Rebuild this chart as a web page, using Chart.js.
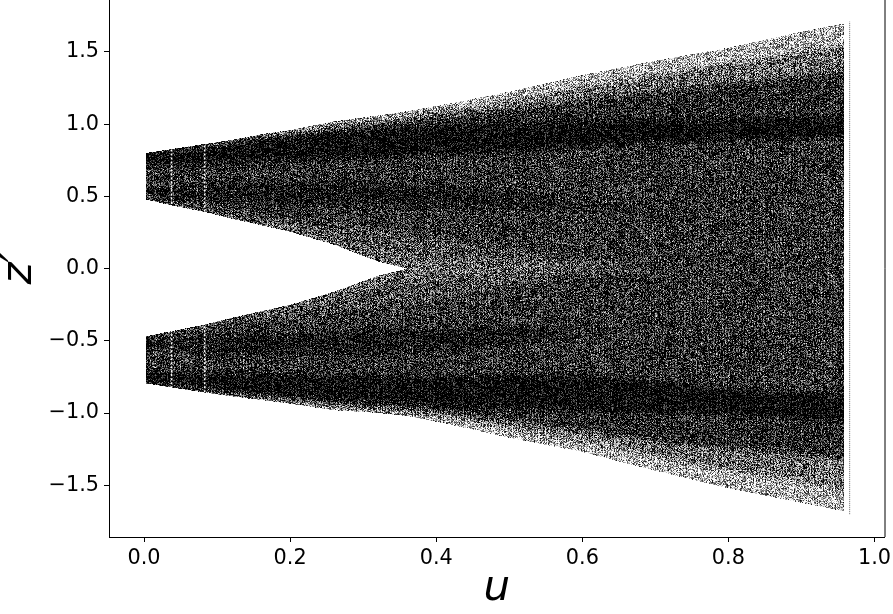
<!DOCTYPE html>
<html>
<head>
<meta charset="utf-8">
<title>z' against u</title>
<script src="https://cdn.jsdelivr.net/npm/chart.js@4/dist/chart.umd.min.js"></script>
<style>
  html, body { margin: 0; padding: 0; background: #fff; }
  canvas { display: block; }
</style>
</head>
<body>
<canvas id="chart" width="893" height="614"></canvas>
<script>
// Values: where the shade changes at each u
const uValues =          [0.002, 0.04, 0.08, 0.12, 0.16, 0.2, 0.26, 0.32, 0.36, 0.42, 0.5, 0.6, 0.7, 0.8, 0.9, 0.958];

const upperOuter =       [0.80, 0.83, 0.862, 0.89, 0.93, 0.96, 1.02, 1.06, 1.09, 1.145, 1.225, 1.34, 1.44, 1.53, 1.64, 1.697];
const upperSparse =      [0.80, 0.828, 0.858, 0.885, 0.92, 0.945, 1.0, 1.035, 1.055, 1.10, 1.16, 1.26, 1.34, 1.42, 1.50, 1.55];
const upperThin =        [0.795, 0.825, 0.85, 0.875, 0.905, 0.93, 0.97, 1.0, 1.02, 1.05, 1.10, 1.17, 1.23, 1.28, 1.33, 1.36];
const upperCoreTop =     [0.79, 0.82, 0.84, 0.86, 0.89, 0.91, 0.94, 0.96, 0.975, 0.99, 1.0, 1.02, 1.03, 1.04, 1.05, 1.06];
const upperCoreBottom =  [0.72, 0.72, 0.72, 0.72, 0.74, 0.75, 0.76, 0.77, 0.78, 0.79, 0.81, 0.84, 0.87, 0.89, 0.90, 0.91];
const upperSecondTop =   [0.56, 0.56, 0.58, 0.60, 0.60, 0.60, 0.60, 0.60, 0.58, 0.57, 0.53, 0.44, 0.38, 0.30, 0.22, 0.18];
const upperSecondLow =   [0.50, 0.48, 0.47, 0.46, 0.45, 0.44, 0.44, 0.44, 0.42, 0.42, 0.40, 0.43, 0.375, 0.295, 0.215, 0.175];
const upperFadeTop =     [0.48, 0.45, 0.42, 0.38, 0.35, 0.33, 0.30, 0.27, 0.25, 0.20, 0.12, 0.05, 0, 0, 0, 0];
const upperFadeLow =     [0.478, 0.44, 0.40, 0.355, 0.315, 0.275, 0.20, 0.12, 0.09, 0.07, 0.03, 0, 0, 0, 0, 0];
const upperInner =       [0.478, 0.435, 0.395, 0.345, 0.30, 0.255, 0.165, 0.05, 0, 0, 0, 0, 0, 0, 0, 0];

const lowerInner =       [-0.468, -0.43, -0.39, -0.34, -0.295, -0.25, -0.16, -0.05, 0, 0, 0, 0, 0, 0, 0, 0];
const lowerFadeLow =     [-0.47, -0.435, -0.395, -0.35, -0.31, -0.27, -0.20, -0.12, -0.09, -0.07, -0.03, 0, 0, 0, 0, 0];
const lowerFadeTop =     [-0.472, -0.45, -0.42, -0.38, -0.35, -0.33, -0.30, -0.27, -0.25, -0.20, -0.12, -0.05, 0, 0, 0, 0];
const lowerSecondLow =   [-0.49, -0.48, -0.47, -0.46, -0.45, -0.44, -0.44, -0.44, -0.42, -0.42, -0.40, -0.43, -0.375, -0.295, -0.215, -0.175];
const lowerSecondTop =   [-0.55, -0.56, -0.58, -0.60, -0.60, -0.60, -0.60, -0.60, -0.58, -0.57, -0.53, -0.44, -0.38, -0.30, -0.22, -0.18];
const lowerCoreBottom =  [-0.71, -0.72, -0.72, -0.72, -0.73, -0.74, -0.74, -0.74, -0.74, -0.74, -0.74, -0.74, -0.78, -0.83, -0.86, -0.87];
const lowerCoreTop =     [-0.785, -0.81, -0.83, -0.85, -0.87, -0.885, -0.905, -0.92, -0.93, -0.95, -0.97, -0.98, -0.99, -1.01, -1.04, -1.05];
const lowerThin =        [-0.79, -0.815, -0.845, -0.865, -0.885, -0.905, -0.935, -0.96, -0.97, -1.0, -1.05, -1.12, -1.19, -1.24, -1.28, -1.31];
const lowerSparse =      [-0.793, -0.82, -0.85, -0.875, -0.895, -0.92, -0.955, -0.985, -1.00, -1.04, -1.11, -1.20, -1.30, -1.40, -1.48, -1.53];
const lowerOuter =       [-0.795, -0.825, -0.855, -0.885, -0.91, -0.935, -0.98, -1.0, -1.02, -1.08, -1.17, -1.27, -1.40, -1.52, -1.62, -1.68];

// The stray column just past the end of the run, and the two thin pale columns
const strayColumnU = 0.966;
const strayColumnZ = [-1.70, 1.71];
const paleColumnsU = [0.0377, 0.083];

const xTicks = [0, 0.2, 0.4, 0.6, 0.8, 1];
const yTicks = [-1.5, -1, -0.5, 0, 0.5, 1, 1.5];

const upperBands = [upperInner, upperFadeLow, upperFadeTop, upperSecondLow, upperSecondTop, upperCoreBottom, upperCoreTop, upperThin, upperSparse, upperOuter];
const lowerBands = [lowerInner, lowerFadeLow, lowerFadeTop, lowerSecondLow, lowerSecondTop, lowerCoreBottom, lowerCoreTop, lowerThin, lowerSparse, lowerOuter];

// Ink share of each band, innermost band first
const bandInk = [0.56, 0.66, 0.78, 0.92, 0.79, 1.0, 0.82, 0.54, 0.28];
const inkGain = 1.15;

function edgeDataset(values) {
  return {
    data: uValues.map((u, i) => ({ x: u, y: values[i] })),
    borderWidth: 0,
    pointRadius: 0,
    tension: 0,
    fill: false
  };
}

function bandDatasets(edges, startIndex) {
  return edges.map((values, i) => {
    const ds = edgeDataset(values);
    if (i > 0) {
      ds.fill = { target: startIndex + i - 1 };
      // ink share goes in the red channel, the stipple plugin turns it into dots
      ds.backgroundColor = `rgb(${Math.round(bandInk[i - 1] * 255)},0,0)`;
    }
    return ds;
  });
}

const datasets = [
  ...bandDatasets(upperBands, 0),
  ...bandDatasets(lowerBands, upperBands.length)
];

paleColumnsU.forEach(u => {
  datasets.push({
    data: [
      { x: u, y: lowerOuter[2] }, { x: u, y: lowerInner[2] },
      { x: u, y: NaN },
      { x: u, y: upperInner[2] }, { x: u, y: upperOuter[2] }
    ],
    order: -1,
    borderColor: '#fff',
    borderWidth: 1.5,
    borderDash: [2, 2],
    pointRadius: 0,
    fill: false
  });
});

datasets.push({
  data: strayColumnZ.map(z => ({ x: strayColumnU, y: z })),
  order: -1,
  borderColor: 'rgba(0,0,0,0.6)',
  borderWidth: 1,
  borderDash: [1, 1],
  pointRadius: 0,
  fill: false
});

function grain(x, y) {
  const s = Math.sin(x * 12.9898 + y * 78.233) * 43758.5453;
  return s - Math.floor(s);
}

// Texture only: softens the flat bands along each pixel column and stipples them
const stipplePlugin = {
  id: 'stipple',
  afterDatasetDraw(chart, args) {
    if (args.index !== 0) return;
    const { ctx, chartArea } = chart;
    const left = Math.ceil(chartArea.left) + 1;
    const top = Math.ceil(chartArea.top);
    const w = Math.floor(chartArea.right) - left - 1;
    const h = Math.floor(chartArea.bottom) - top - 1;
    const img = ctx.getImageData(left, top, w, h);
    const px = img.data;
    const radius = 4;
    const column = new Float32Array(h);
    for (let x = 0; x < w; x++) {
      for (let y = 0; y < h; y++) {
        const i = (y * w + x) * 4;
        column[y] = px[i + 3] > 128 ? px[i] / 255 : -1;
      }
      const stripePhase = (x / 2.92) % 1;
      const stripe = (stripePhase < 0.34 ? 0.1 : -0.05) + (grain(x, 7) - 0.5) * 0.08;
      for (let y = 0; y < h; y++) {
        const i = (y * w + x) * 4;
        if (column[y] < 0) {
          px[i + 3] = 0;
          continue;
        }
        let sum = 0;
        let count = 0;
        for (let k = Math.max(0, y - radius); k <= Math.min(h - 1, y + radius); k++) {
          if (column[k] >= 0) {
            sum += column[k];
            count++;
          }
        }
        const ink = (sum / count) * inkGain + stripe;
        let alpha = ink + (grain(x, y) - 0.5) * 1.1;
        // a few nearly white specks where the ink thins out
        if (grain(y, x + 31) > 1.01 - (1.15 - ink) * 0.12) alpha *= 0.15;
        px[i] = 0;
        px[i + 1] = 0;
        px[i + 2] = 0;
        px[i + 3] = Math.round(Math.max(0, Math.min(1, alpha)) * 255);
      }
    }
    ctx.putImageData(img, left, top);
  }
};

const rightSpine = {
  id: 'rightSpine',
  afterDraw(chart) {
    const { ctx, chartArea } = chart;
    ctx.save();
    ctx.strokeStyle = '#000';
    ctx.lineWidth = 1;
    ctx.beginPath();
    ctx.moveTo(chartArea.right + 0.5, 0);
    ctx.lineTo(chartArea.right + 0.5, chartArea.bottom);
    ctx.stroke();
    ctx.restore();
  }
};

const tickFont = { family: '"DejaVu Sans"', size: 20.8 };
const titleFont = { family: '"DejaVu Sans"', size: 42, style: 'italic' };
const tickLabel = v => v.toFixed(1).replace('-', '\u2212');

new Chart(document.getElementById('chart').getContext('2d'), {
  type: 'line',
  data: { datasets },
  plugins: [stipplePlugin, rightSpine],
  options: {
    responsive: false,
    animation: false,
    layout: { padding: { top: 0, left: 0, right: 8.5, bottom: 0 } },
    plugins: { legend: { display: false }, tooltip: { enabled: false } },
    scales: {
      x: {
        type: 'linear',
        min: -0.048,
        max: 1.0137,
        afterBuildTicks: scale => { scale.ticks = xTicks.map(value => ({ value })); },
        afterFit: scale => { scale.height = 77; scale.paddingLeft = 0; scale.paddingRight = 0; },
        ticks: { font: tickFont, color: '#000', padding: 4, maxRotation: 0, autoSkip: false, callback: tickLabel },
        grid: { drawOnChartArea: false, drawTicks: true, tickLength: 5, tickColor: '#000', tickWidth: 1 },
        border: { color: '#000', width: 1 },
        title: { display: true, text: 'u', color: '#000', font: titleFont, padding: { top: -8, bottom: 0 } }
      },
      y: {
        type: 'linear',
        min: -1.858,
        max: 1.86,
        afterBuildTicks: scale => { scale.ticks = yTicks.map(value => ({ value })); },
        afterFit: scale => { scale.width = 109; scale.paddingTop = 0; scale.paddingBottom = 0; },
        ticks: { font: tickFont, color: '#000', padding: 5, autoSkip: false, callback: tickLabel },
        grid: { drawOnChartArea: false, drawTicks: true, tickLength: 5, tickColor: '#000', tickWidth: 1 },
        border: { color: '#000', width: 1 },
        title: { display: true, text: 'z\u2032', color: '#000', font: titleFont, padding: { top: -5, bottom: 0 } }
      }
    }
  }
});
</script>
</body>
</html>
